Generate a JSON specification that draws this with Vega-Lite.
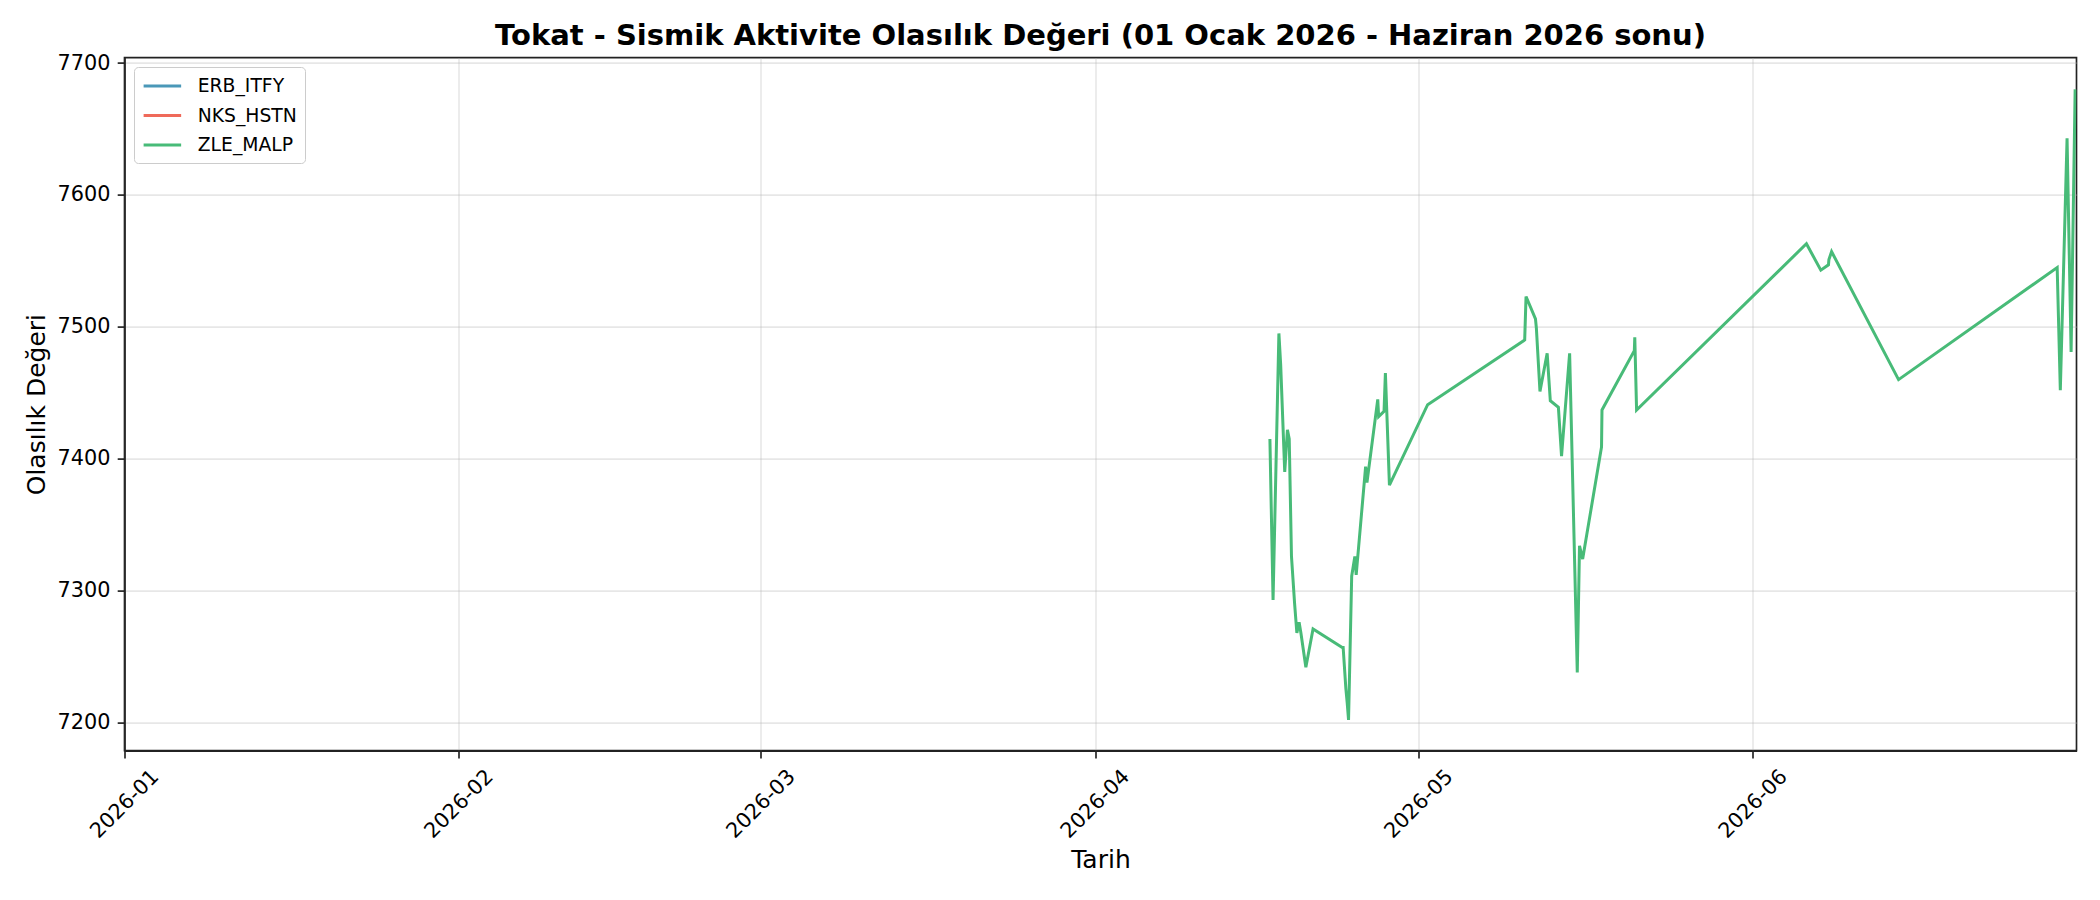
{
  "$schema": "https://vega.github.io/schema/vega-lite/v6.json",
  "width": 1952,
  "height": 693,
  "autosize": {"type": "none"},
  "padding": {"left": 124.5, "top": 57.6, "right": 23.5, "bottom": 149.4},
  "background": "white",
  "title": {
    "text": "Tokat - Sismik Aktivite Olasılık Değeri (01 Ocak 2026 - Haziran 2026 sonu)",
    "font": "DejaVu Sans",
    "fontSize": 29,
    "fontWeight": "bold",
    "color": "black",
    "anchor": "middle",
    "offset": 1
  },
  "data": {
    "values": [
      {"tarih": "2026-04-17T05:00", "deger": 7415, "seri": "ZLE_MALP"},
      {"tarih": "2026-04-17T12:00", "deger": 7293, "seri": "ZLE_MALP"},
      {"tarih": "2026-04-18T01:00", "deger": 7495, "seri": "ZLE_MALP"},
      {"tarih": "2026-04-18T05:00", "deger": 7471, "seri": "ZLE_MALP"},
      {"tarih": "2026-04-18T14:00", "deger": 7390, "seri": "ZLE_MALP"},
      {"tarih": "2026-04-18T20:00", "deger": 7422, "seri": "ZLE_MALP"},
      {"tarih": "2026-04-19T00:00", "deger": 7415, "seri": "ZLE_MALP"},
      {"tarih": "2026-04-19T05:00", "deger": 7326, "seri": "ZLE_MALP"},
      {"tarih": "2026-04-19T12:00", "deger": 7290, "seri": "ZLE_MALP"},
      {"tarih": "2026-04-19T17:00", "deger": 7268, "seri": "ZLE_MALP"},
      {"tarih": "2026-04-19T22:00", "deger": 7276, "seri": "ZLE_MALP"},
      {"tarih": "2026-04-20T02:00", "deger": 7268, "seri": "ZLE_MALP"},
      {"tarih": "2026-04-20T13:00", "deger": 7242, "seri": "ZLE_MALP"},
      {"tarih": "2026-04-21T05:00", "deger": 7271, "seri": "ZLE_MALP"},
      {"tarih": "2026-04-23T22:00", "deger": 7257, "seri": "ZLE_MALP"},
      {"tarih": "2026-04-24T00:00", "deger": 7257, "seri": "ZLE_MALP"},
      {"tarih": "2026-04-24T06:00", "deger": 7226, "seri": "ZLE_MALP"},
      {"tarih": "2026-04-24T09:00", "deger": 7215, "seri": "ZLE_MALP"},
      {"tarih": "2026-04-24T12:00", "deger": 7202, "seri": "ZLE_MALP"},
      {"tarih": "2026-04-24T19:00", "deger": 7311, "seri": "ZLE_MALP"},
      {"tarih": "2026-04-25T02:00", "deger": 7326, "seri": "ZLE_MALP"},
      {"tarih": "2026-04-25T05:00", "deger": 7312, "seri": "ZLE_MALP"},
      {"tarih": "2026-04-26T02:00", "deger": 7394, "seri": "ZLE_MALP"},
      {"tarih": "2026-04-26T05:00", "deger": 7382, "seri": "ZLE_MALP"},
      {"tarih": "2026-04-27T05:00", "deger": 7445, "seri": "ZLE_MALP"},
      {"tarih": "2026-04-27T07:00", "deger": 7432, "seri": "ZLE_MALP"},
      {"tarih": "2026-04-27T19:00", "deger": 7436, "seri": "ZLE_MALP"},
      {"tarih": "2026-04-27T22:00", "deger": 7465, "seri": "ZLE_MALP"},
      {"tarih": "2026-04-28T07:00", "deger": 7380, "seri": "ZLE_MALP"},
      {"tarih": "2026-05-01T20:00", "deger": 7441, "seri": "ZLE_MALP"},
      {"tarih": "2026-05-10T20:00", "deger": 7490, "seri": "ZLE_MALP"},
      {"tarih": "2026-05-10T23:00", "deger": 7523, "seri": "ZLE_MALP"},
      {"tarih": "2026-05-11T20:00", "deger": 7506, "seri": "ZLE_MALP"},
      {"tarih": "2026-05-11T22:00", "deger": 7499, "seri": "ZLE_MALP"},
      {"tarih": "2026-05-12T06:00", "deger": 7451, "seri": "ZLE_MALP"},
      {"tarih": "2026-05-12T22:00", "deger": 7480, "seri": "ZLE_MALP"},
      {"tarih": "2026-05-13T05:00", "deger": 7444, "seri": "ZLE_MALP"},
      {"tarih": "2026-05-13T23:00", "deger": 7439, "seri": "ZLE_MALP"},
      {"tarih": "2026-05-14T06:00", "deger": 7402, "seri": "ZLE_MALP"},
      {"tarih": "2026-05-15T00:00", "deger": 7480, "seri": "ZLE_MALP"},
      {"tarih": "2026-05-15T17:00", "deger": 7238, "seri": "ZLE_MALP"},
      {"tarih": "2026-05-15T22:00", "deger": 7334, "seri": "ZLE_MALP"},
      {"tarih": "2026-05-16T05:00", "deger": 7324, "seri": "ZLE_MALP"},
      {"tarih": "2026-05-17T23:00", "deger": 7409, "seri": "ZLE_MALP"},
      {"tarih": "2026-05-18T00:00", "deger": 7437, "seri": "ZLE_MALP"},
      {"tarih": "2026-05-21T00:00", "deger": 7482, "seri": "ZLE_MALP"},
      {"tarih": "2026-05-21T01:00", "deger": 7492, "seri": "ZLE_MALP"},
      {"tarih": "2026-05-21T05:00", "deger": 7437, "seri": "ZLE_MALP"},
      {"tarih": "2026-06-05T23:00", "deger": 7563, "seri": "ZLE_MALP"},
      {"tarih": "2026-06-07T07:00", "deger": 7543, "seri": "ZLE_MALP"},
      {"tarih": "2026-06-08T00:00", "deger": 7547, "seri": "ZLE_MALP"},
      {"tarih": "2026-06-08T01:00", "deger": 7551, "seri": "ZLE_MALP"},
      {"tarih": "2026-06-08T07:00", "deger": 7557, "seri": "ZLE_MALP"},
      {"tarih": "2026-06-14T12:00", "deger": 7460, "seri": "ZLE_MALP"},
      {"tarih": "2026-06-29T05:00", "deger": 7545, "seri": "ZLE_MALP"},
      {"tarih": "2026-06-29T12:00", "deger": 7452, "seri": "ZLE_MALP"},
      {"tarih": "2026-06-30T03:00", "deger": 7643, "seri": "ZLE_MALP"},
      {"tarih": "2026-06-30T12:00", "deger": 7481, "seri": "ZLE_MALP"},
      {"tarih": "2026-06-30T21:00", "deger": 7680, "seri": "ZLE_MALP"}
    ]
  },
  "mark": {"type": "line", "strokeWidth": 3, "clip": true},
  "encoding": {
    "x": {
      "field": "tarih",
      "type": "temporal",
      "scale": {
        "domain": [
          {"year": 2026, "month": 1, "date": 1},
          {"year": 2026, "month": 7, "date": 1}
        ]
      },
      "axis": {
        "values": [
          {"year": 2026, "month": 1, "date": 1},
          {"year": 2026, "month": 2, "date": 1},
          {"year": 2026, "month": 3, "date": 1},
          {"year": 2026, "month": 4, "date": 1},
          {"year": 2026, "month": 5, "date": 1},
          {"year": 2026, "month": 6, "date": 1}
        ],
        "format": "%Y-%m",
        "labelAngle": -45,
        "labelAlign": "center",
        "labelBaseline": "middle",
        "labelPadding": 46,
        "labelOverlap": false,
        "labelFlush": false,
        "title": "Tarih",
        "titleY": 108.6,
        "titleBaseline": "middle"
      }
    },
    "y": {
      "field": "deger",
      "type": "quantitative",
      "scale": {"domain": [7178.8, 7704.1], "nice": false, "zero": false},
      "axis": {
        "values": [7200, 7300, 7400, 7500, 7600, 7700],
        "format": "d",
        "labelPadding": 7.3,
        "title": "Olasılık Değeri",
        "titleX": -88.5,
        "titleY": 346.5,
        "titleAngle": -90,
        "titleAlign": "center",
        "titleBaseline": "middle"
      }
    },
    "color": {
      "field": "seri",
      "type": "nominal",
      "scale": {
        "domain": ["ERB_ITFY", "NKS_HSTN", "ZLE_MALP"],
        "range": ["#4A98B8", "#EF6A5A", "#48BB78"]
      },
      "legend": {
        "orient": "none",
        "legendX": 9.5,
        "legendY": 9.4,
        "title": null,
        "symbolType": "M-1,0H3",
        "symbolSize": 352,
        "symbolStrokeWidth": 3,
        "labelFont": "DejaVu Sans",
        "labelFontSize": 18.75,
        "labelColor": "black",
        "labelOffset": 33.75,
        "rowPadding": 8.5,
        "padding": 8,
        "strokeColor": "#cccccc",
        "fillColor": "white",
        "cornerRadius": 4
      }
    }
  },
  "config": {
    "font": "DejaVu Sans",
    "view": {"stroke": "#222222", "strokeWidth": 1.67},
    "axis": {
      "labelFont": "DejaVu Sans",
      "titleFont": "DejaVu Sans",
      "labelFontSize": 20.8,
      "titleFontSize": 25,
      "titleFontWeight": "normal",
      "labelColor": "black",
      "titleColor": "black",
      "tickColor": "#222222",
      "domainColor": "#222222",
      "tickWidth": 1.67,
      "domainWidth": 1.67,
      "tickSize": 7.3,
      "grid": true,
      "gridColor": "#b0b0b0",
      "gridOpacity": 0.3,
      "gridWidth": 1.6
    }
  }
}
